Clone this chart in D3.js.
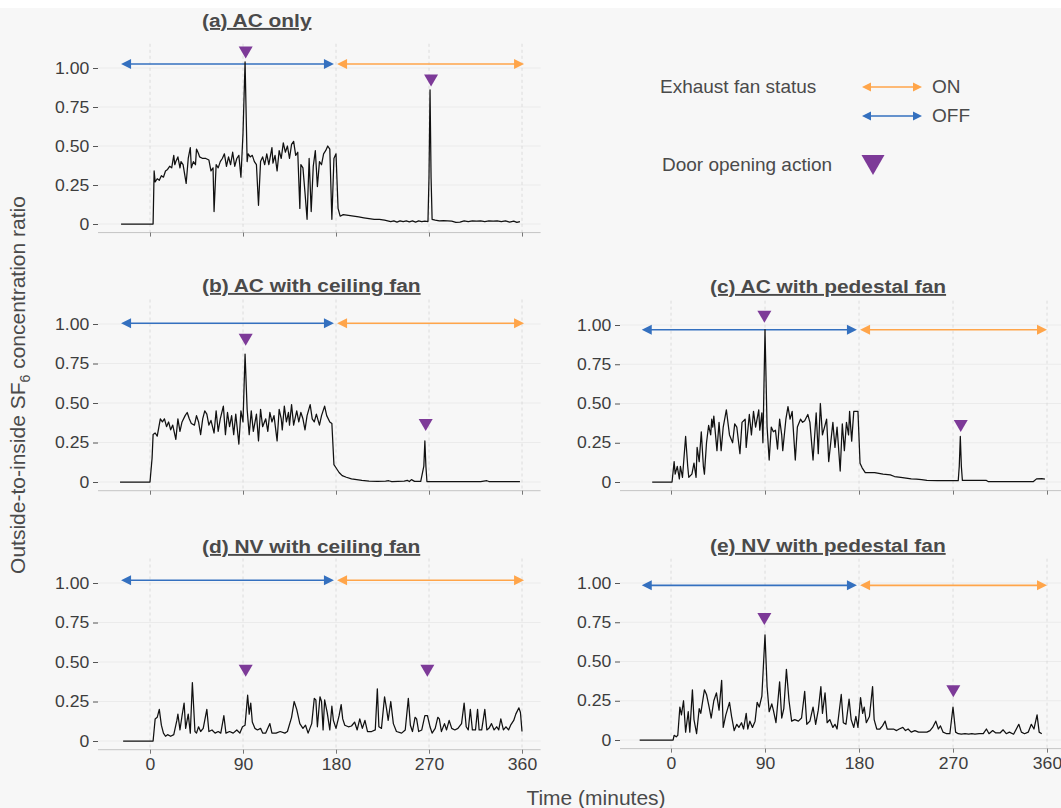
<!DOCTYPE html>
<html>
<head>
<meta charset="utf-8">
<script src="https://cdn.jsdelivr.net/npm/d3@7"></script>
<style>
  body { margin: 0; background: #ffffff; }
  svg { display: block; font-family: "Liberation Sans", Arial, sans-serif; }
</style>
</head>
<body>
<script>
// time (minutes) vs outside-to-inside SF6 ratio
const timeTicks = [0, 90, 180, 270, 360];
const ratioTicks = [0, 0.25, 0.5, 0.75, 1];

const seriesA = [[-28,0],[3,0],[4,0.34],[5,0.27],[7,0.29],[9,0.28],[11,0.31],[13,0.30],[15,0.34],[17,0.35],[19,0.37],[21,0.36],[23,0.44],[24,0.38],[25,0.40],[27,0.43],[29,0.36],[30,0.40],[32,0.38],[35,0.26],[37,0.42],[39,0.49],[40,0.36],[42,0.40],[44,0.38],[45,0.48],[47,0.45],[48,0.43],[51,0.42],[54,0.42],[57,0.41],[59,0.34],[61,0.36],[62,0.08],[64,0.38],[66,0.36],[68,0.40],[70,0.42],[72,0.45],[74,0.37],[76,0.43],[78,0.38],[80,0.46],[82,0.37],[84,0.42],[86,0.44],[88,0.30],[90,0.58],[92,1.04],[94,0.40],[95,0.45],[97,0.43],[99,0.44],[101,0.40],[103,0.38],[105,0.12],[107,0.40],[109,0.43],[111,0.38],[113,0.45],[115,0.38],[118,0.49],[119,0.39],[121,0.44],[123,0.34],[125,0.47],[127,0.42],[129,0.52],[131,0.46],[133,0.50],[135,0.42],[137,0.51],[139,0.53],[141,0.44],[143,0.46],[145,0.10],[146,0.38],[148,0.36],[150,0.20],[152,0.03],[154,0.42],[156,0.08],[158,0.37],[160,0.47],[162,0.24],[164,0.40],[166,0.38],[168,0.45],[170,0.47],[172,0.50],[174,0.48],[176,0.03],[178,0.42],[180,0.45],[182,0.10],[184,0.05],[187,0.06],[192,0.055],[197,0.05],[202,0.045],[207,0.04],[212,0.035],[217,0.03],[222,0.03],[227,0.025],[230,0.02],[233,0.015],[236,0.02],[239,0.012],[242,0.02],[245,0.015],[248,0.02],[251,0.014],[254,0.02],[257,0.012],[260,0.02],[263,0.015],[266,0.018],[269,0.016],[270,0.30],[271,0.86],[272,0.30],[273,0.03],[276,0.025],[280,0.02],[284,0.022],[288,0.02],[292,0.018],[296,0.01],[300,0.012],[304,0.02],[308,0.015],[312,0.02],[316,0.018],[320,0.02],[324,0.015],[328,0.02],[332,0.018],[336,0.02],[340,0.015],[344,0.02],[348,0.012],[352,0.018],[355,0.01],[358,0.015]];

const seriesB = [[-29,0],[0,0],[2,0.15],[3,0.30],[5,0.31],[7,0.29],[10,0.40],[12,0.38],[14,0.40],[16,0.35],[18,0.38],[20,0.33],[22,0.36],[25,0.27],[27,0.40],[29,0.32],[31,0.38],[34,0.42],[36,0.44],[38,0.40],[40,0.37],[43,0.36],[45,0.42],[47,0.38],[49,0.30],[51,0.40],[53,0.45],[55,0.43],[57,0.36],[59,0.39],[62,0.31],[64,0.45],[66,0.32],[68,0.40],[71,0.48],[73,0.30],[75,0.44],[77,0.35],[79,0.42],[81,0.30],[83,0.43],[86,0.24],[88,0.45],[90,0.38],[92,0.81],[94,0.46],[96,0.30],[98,0.45],[100,0.32],[103,0.43],[105,0.26],[107,0.46],[109,0.35],[112,0.40],[114,0.32],[116,0.44],[118,0.38],[120,0.42],[123,0.26],[125,0.46],[127,0.40],[128,0.33],[130,0.48],[132,0.38],[134,0.44],[135,0.36],[137,0.49],[139,0.36],[142,0.45],[144,0.38],[146,0.44],[148,0.40],[150,0.33],[152,0.42],[155,0.49],[157,0.40],[159,0.38],[161,0.43],[164,0.36],[166,0.42],[169,0.48],[171,0.42],[174,0.38],[176,0.37],[178,0.11],[180,0.09],[183,0.06],[186,0.04],[190,0.03],[195,0.02],[200,0.015],[205,0.01],[212,0.005],[220,0.004],[228,0.005],[231,0.008],[234,0.003],[240,0.004],[246,0.005],[249,0.01],[251,0.003],[253,0.015],[256,0.004],[262,0.004],[265,0.10],[266,0.26],[267,0.10],[268,0.003],[275,0.003],[290,0.003],[305,0.003],[320,0.003],[326,0.008],[328,0.003],[340,0.003],[358,0.003]];

const seriesC = [[-18,0],[1,0],[3,0.13],[4,0.05],[6,0.10],[8,0.02],[9,0.10],[11,0.03],[14,0.29],[16,0.10],[17,0.03],[20,0.05],[22,0.12],[24,0.03],[25,0.22],[27,0.13],[29,0.32],[31,0.10],[32,0.05],[34,0.25],[36,0.36],[38,0.30],[39,0.40],[40,0.35],[41,0.42],[44,0.20],[46,0.38],[48,0.20],[50,0.35],[53,0.46],[56,0.30],[59,0.25],[61,0.37],[63,0.35],[66,0.18],[68,0.38],[71,0.40],[72,0.22],[75,0.43],[77,0.30],[79,0.45],[81,0.35],[84,0.46],[85,0.33],[87,0.44],[88,0.25],[90,0.97],[92,0.35],[94,0.14],[96,0.35],[98,0.32],[100,0.33],[102,0.21],[104,0.40],[106,0.30],[107,0.20],[110,0.40],[112,0.48],[114,0.40],[116,0.45],[119,0.14],[121,0.35],[124,0.40],[126,0.38],[128,0.39],[131,0.43],[133,0.38],[136,0.14],[139,0.44],[141,0.18],[143,0.50],[145,0.30],[147,0.35],[149,0.40],[151,0.13],[155,0.38],[157,0.22],[159,0.35],[162,0.07],[164,0.37],[166,0.20],[168,0.38],[170,0.30],[171,0.45],[173,0.26],[175,0.45],[179,0.45],[181,0.12],[183,0.09],[186,0.06],[195,0.06],[203,0.05],[210,0.045],[214,0.035],[220,0.03],[225,0.025],[230,0.02],[235,0.018],[240,0.015],[245,0.01],[255,0.008],[265,0.008],[275,0.008],[276,0.10],[277,0.29],[278,0.10],[279,0.01],[290,0.01],[302,0.01],[304,0.002],[320,0.002],[335,0.002],[347,0.003],[350,0.02],[355,0.022],[358,0.018]];

const seriesD = [[-26,0],[3,0],[5,0.14],[7,0.15],[9,0.20],[11,0.10],[13,0.05],[15,0.03],[17,0.04],[20,0.03],[23,0.04],[25,0.10],[26,0.13],[27,0.17],[29,0.07],[31,0.16],[33,0.24],[34.5,0.08],[37,0.17],[39,0.05],[41,0.37],[43.5,0.06],[45,0.05],[47,0.09],[49,0.06],[51.5,0.08],[55,0.20],[57,0.06],[60,0.07],[63,0.05],[66,0.06],[68.5,0.05],[71.5,0.16],[73.5,0.05],[77,0.06],[80.5,0.05],[84,0.07],[87,0.05],[89.5,0.09],[92,0.10],[94.5,0.29],[96,0.17],[97.5,0.24],[99,0.12],[101.5,0.08],[104,0.07],[107,0.08],[109,0.05],[112,0.05],[116,0.11],[118,0.05],[122,0.05],[126,0.06],[130.5,0.05],[133,0.06],[137,0.15],[139.5,0.25],[142,0.20],[145,0.11],[148,0.08],[150.5,0.10],[153,0.05],[156.5,0.11],[159,0.27],[160.5,0.26],[162,0.09],[164.5,0.28],[166,0.25],[167.5,0.07],[169,0.26],[171.5,0.18],[174,0.07],[176,0.22],[177.5,0.13],[180,0.08],[183,0.16],[185,0.23],[186.5,0.14],[188.5,0.10],[192,0.09],[195,0.095],[198,0.12],[200.5,0.07],[203,0.14],[205.5,0.08],[208,0.13],[210.5,0.06],[214.5,0.06],[218,0.07],[220,0.33],[221.5,0.09],[224,0.08],[227,0.28],[229,0.20],[230.5,0.13],[233,0.25],[235.5,0.11],[238.5,0.06],[243.5,0.05],[247,0.07],[250,0.27],[252,0.10],[254,0.06],[256.5,0.15],[258,0.14],[260,0.06],[263,0.07],[266,0.16],[268.5,0.16],[271,0.09],[273,0.05],[276,0.08],[278.5,0.15],[280,0.14],[282,0.06],[285,0.11],[287,0.07],[289.5,0.13],[292,0.08],[295,0.07],[298,0.08],[301.5,0.11],[304,0.24],[306,0.09],[308,0.07],[310,0.20],[312,0.07],[315,0.07],[317,0.20],[318.5,0.07],[321,0.07],[324,0.20],[326,0.07],[328,0.08],[330.5,0.11],[333,0.07],[335.5,0.09],[337.5,0.07],[339.5,0.14],[342,0.07],[344.5,0.09],[347,0.07],[349,0.10],[352,0.13],[354,0.17],[357,0.21],[358.5,0.18],[360,0.06]];

const seriesE = [[-30,0],[2,0],[3,0.03],[5,0.02],[6.5,0.03],[8.5,0.21],[10,0.16],[12,0.25],[14,0.05],[16.5,0.18],[18,0.05],[20.5,0.32],[22,0.13],[24.5,0.04],[27,0.20],[28.5,0.17],[32,0.32],[34,0.29],[36.5,0.21],[38.5,0.14],[41,0.25],[43.5,0.30],[46,0.19],[48.5,0.38],[50,0.08],[52.5,0.16],[56,0.24],[58,0.15],[60.5,0.06],[63,0.10],[65,0.08],[67.5,0.11],[69.5,0.07],[72,0.17],[73.5,0.07],[75.5,0.12],[78,0.08],[80.5,0.12],[82.5,0.24],[84.5,0.21],[87,0.28],[90,0.67],[92,0.34],[94,0.18],[96.5,0.23],[98,0.19],[100.5,0.11],[104,0.37],[106,0.14],[108,0.20],[110.5,0.45],[113,0.25],[115.5,0.12],[118.5,0.13],[122,0.12],[125,0.14],[128,0.31],[130,0.10],[133,0.12],[136,0.21],[138.5,0.10],[141,0.19],[143.5,0.34],[145,0.17],[147.5,0.30],[149.5,0.11],[152,0.13],[155,0.08],[157,0.10],[159,0.07],[163,0.29],[165,0.11],[167.5,0.10],[170.5,0.26],[172.5,0.13],[175,0.08],[177,0.15],[179,0.08],[181.5,0.27],[183.5,0.17],[185,0.21],[187,0.11],[190,0.15],[193,0.34],[194.5,0.13],[197,0.07],[200,0.07],[202.5,0.09],[205,0.12],[207,0.07],[210,0.07],[213,0.07],[216,0.06],[218.5,0.07],[222,0.08],[224.5,0.06],[227,0.07],[230,0.05],[233.5,0.06],[237,0.05],[241.5,0.05],[245,0.05],[248,0.06],[250.5,0.08],[253.5,0.12],[256,0.07],[258,0.09],[260.5,0.05],[264,0.04],[267,0.04],[270,0.21],[272.5,0.05],[275,0.04],[278,0.037],[281.5,0.04],[285,0.037],[288,0.04],[291,0.037],[295,0.04],[299,0.04],[302,0.07],[304.5,0.04],[308,0.06],[311,0.045],[315,0.045],[318,0.065],[321,0.04],[324,0.05],[328,0.037],[333,0.10],[335.5,0.05],[338.5,0.04],[342,0.05],[345,0.10],[347.5,0.07],[350.5,0.16],[352.5,0.05],[355,0.04]];

// door opening markers [minute, ratio]
const doorsA = [[92.6, 1.10], [272, 0.92]];
const doorsB = [[92.6, 0.90], [266.8, 0.36]];
const doorsC = [[89.4, 1.053], [277.4, 0.357]];
const doorsD = [[92.6, 0.445], [268.4, 0.445]];
const doorsE = [[89.4, 0.77], [270.3, 0.31]];

// exhaust fan OFF / ON spans (minutes) and the ratio level they sit at
const fanOff = [-28, 178];
const fanOn = [181, 362];
const fanLevels = [1.026, 1.005, 0.97, 1.017, 0.985];

const titles = ["(a) AC only", "(b) AC with ceiling fan", "(c) AC with pedestal fan",
                "(d) NV with ceiling fan", "(e) NV with pedestal fan"];
const allSeries = [seriesA, seriesB, seriesC, seriesD, seriesE];
const allDoors = [doorsA, doorsB, doorsC, doorsD, doorsE];

const BLUE = "#3470bf", ORANGE = "#ffa54a", PURPLE = "#7d3a98";
const TXT = "#4a4a4a";

const W = 1061, H = 808;
const svg = d3.select("body").append("svg").attr("width", W).attr("height", H);
svg.append("rect").attr("x", 0).attr("y", 8).attr("width", W).attr("height", H - 8).attr("fill", "#f7f7f7");

// layout of the five panels
const cols = [
  { range: [150, 522], axisX: 98, titleX: 202 },
  { range: [671, 1047], axisX: 620, titleX: 710 }
];
const layout = [
  { col: 0, zero: 224, one: 68, titleY: 27, labels: false },
  { col: 0, zero: 482, one: 324, titleY: 292, labels: false },
  { col: 1, zero: 482, one: 325, titleY: 293, labels: false },
  { col: 0, zero: 741, one: 583, titleY: 553, labels: true },
  { col: 1, zero: 740, one: 583, titleY: 552, labels: true }
];

function stretched(g, x, y, str, size, sx, anchor, weight) {
  return g.append("text")
    .attr("transform", `translate(${x},${y}) scale(${sx},1)`)
    .attr("text-anchor", anchor || "start")
    .attr("font-size", size)
    .attr("font-weight", weight || "normal")
    .attr("fill", TXT)
    .text(str);
}

function arrow(g, x1, x2, y, color, head) {
  g.append("line").attr("x1", x1 + head - 1).attr("x2", x2 - head + 1)
    .attr("y1", y).attr("y2", y).attr("stroke", color).attr("stroke-width", 1.6);
  g.append("path").attr("d", `M${x1},${y}L${x1 + head},${y - head / 2}L${x1 + head},${y + head / 2}Z`).attr("fill", color);
  g.append("path").attr("d", `M${x2},${y}L${x2 - head},${y - head / 2}L${x2 - head},${y + head / 2}Z`).attr("fill", color);
}

const tri = "M-7,-6L7,-6L0,6Z";

layout.forEach((p, i) => {
  const c = cols[p.col];
  const x = d3.scaleLinear().domain([0, 360]).range(c.range);
  const y = d3.scaleLinear().domain([0, 1]).range([p.zero, p.one]);
  const g = svg.append("g");
  const x0 = c.axisX, x1 = x(378);
  const yTop = y(1.155), yBot = y(-0.055);

  // grid
  g.selectAll(".hg").data(ratioTicks).join("line")
    .attr("x1", x0).attr("x2", x1).attr("y1", d => y(d)).attr("y2", d => y(d))
    .attr("stroke", "#ebebeb").attr("stroke-width", 1);
  g.selectAll(".vg").data(timeTicks).join("line")
    .attr("x1", d => x(d)).attr("x2", d => x(d)).attr("y1", yTop).attr("y2", yBot)
    .attr("stroke", "#d6d6d6").attr("stroke-width", 0.8).attr("stroke-dasharray", "3,3");

  // y axis
  const ya = g.append("g").attr("transform", `translate(${x0},0)`)
    .call(d3.axisLeft(y).tickValues(ratioTicks).tickSize(5).tickPadding(3)
      .tickFormat(d => d === 0 ? "0" : d3.format(".2f")(d)));
  ya.select(".domain").remove();
  ya.selectAll(".tick line").attr("stroke", "#555");
  ya.selectAll(".tick text").attr("font-size", 16).attr("fill", "#3d3d3d")
    .attr("font-family", "Liberation Sans, Arial, sans-serif")
    .attr("transform", "scale(1.1,1)");

  // x axis
  const xa = g.append("g").attr("transform", `translate(0,${yBot})`)
    .call(d3.axisBottom(x).tickValues(timeTicks).tickSize(4).tickPadding(5)
      .tickFormat(p.labels ? d3.format("d") : () => ""));
  xa.select(".domain").attr("d", `M${x0},0H${x1}`).attr("stroke", "#c4c4c4");
  xa.selectAll(".tick line").attr("stroke", "#777");
  xa.selectAll(".tick text").attr("font-size", 16).attr("fill", "#3d3d3d")
    .attr("font-family", "Liberation Sans, Arial, sans-serif")
    .attr("transform", "scale(1.1,1)");

  // exhaust fan status arrows
  const lvl = y(fanLevels[i]);
  arrow(g, x(fanOff[0]), x(fanOff[1]), lvl, BLUE, 10);
  arrow(g, x(fanOn[0]), x(Math.min(fanOn[1], p.col ? 360 : fanOn[1])), lvl, ORANGE, 10);

  // series
  const line = d3.line().x(d => x(d[0])).y(d => y(d[1]));
  g.append("path").datum(allSeries[i]).attr("d", line)
    .attr("fill", "none").attr("stroke", "#111").attr("stroke-width", 1.25)
    .attr("stroke-linejoin", "round");

  // door markers
  g.selectAll(".door").data(allDoors[i]).join("path")
    .attr("d", tri).attr("fill", PURPLE)
    .attr("transform", d => `translate(${x(d[0])},${y(d[1])})`);

  // title
  stretched(g, c.titleX, p.titleY, titles[i], 19, 1.1, "start", "bold")
    .attr("text-decoration", "underline");
});

// legend
const lg = svg.append("g");
const lsz = 19;
lg.append("text").attr("x", 660).attr("y", 93).attr("font-size", lsz).attr("fill", TXT).text("Exhaust fan status");
arrow(lg, 862, 922, 87, ORANGE, 9);
lg.append("text").attr("x", 932).attr("y", 93).attr("font-size", lsz).attr("fill", TXT).text("ON");
arrow(lg, 862, 922, 116, BLUE, 9);
lg.append("text").attr("x", 932).attr("y", 122).attr("font-size", lsz).attr("fill", TXT).text("OFF");
lg.append("text").attr("x", 662).attr("y", 171).attr("font-size", lsz).attr("fill", TXT).text("Door opening action");
lg.append("path").attr("d", "M-11.5,-10L11.5,-10L0,10Z").attr("fill", PURPLE)
  .attr("transform", "translate(873,165)");

// axis titles
const yl = svg.append("text").attr("transform", "translate(25,385) rotate(-90)")
  .attr("text-anchor", "middle").attr("font-size", 21).attr("fill", TXT);
yl.append("tspan").text("Outside-to-inside SF");
yl.append("tspan").attr("font-size", 14).attr("dy", 5).text("6");
yl.append("tspan").attr("dy", -5).text(" concentration ratio");

stretched(svg, 596, 805, "Time (minutes)", 20, 1.05, "middle");
</script>
</body>
</html>
